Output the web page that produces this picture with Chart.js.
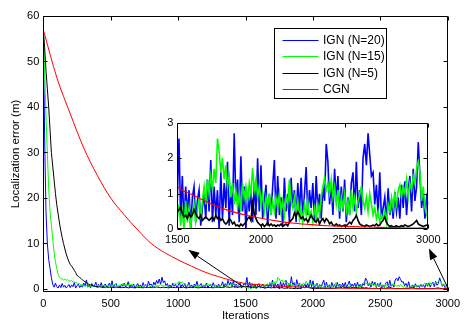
<!DOCTYPE html>
<html>
<head>
<meta charset="utf-8">
<script src="https://cdn.jsdelivr.net/npm/chart.js@4.4.1/dist/chart.umd.min.js"></script>
<style>
  html, body { margin: 0; padding: 0; background: #fff; }
  #wrap { position: relative; width: 465px; height: 323px; }
  #mainChart { position: absolute; left: 0; top: 0; }
  #insetChart { position: absolute; left: 150px; top: 112px; }
</style>
</head>
<body>
<div id="wrap">
  <canvas id="mainChart" width="465" height="323"></canvas>
  <canvas id="insetChart" width="295" height="138"></canvas>
</div>
<script>
// Series info
const seriesNames = ['IGN (N=20)', 'IGN (N=15)', 'IGN (N=5)', 'CGN'];
const seriesColors = ['#0000ff', '#00ff00', '#000000', '#ff0000'];

// IGN curves, one value every 10 iterations (0..3000)
const iterStep = 10;
const ign20 = [
  57, 33, 17, 10, 6.5, 4.5, 2.5, 1.0, 0.4, 1.3,
  0.5, 0.2, 0.9, 0.3, 1.2, 0.4, 0.8, 0.2, 0.6, 1.0,
  0.3, 0.9, 0.5, 1.4, 0.2, 0.7, 1.1, 0.3, 0.8, 0.4,
  1.3, 0.6, 2.0, 0.4, 0.9, 0.2, 1.2, 0.5, 0.8, 1.5,
  0.3, 1.0, 0.6, 1.4, 0.2, 0.8, 1.1, 0.4, 0.7, 1.3,
  0.5, 1.8, 0.3, 0.9, 1.2, 0.4, 0.7, 0.2, 1.0, 0.6,
  1.3, 0.4, 0.8, 1.6, 0.3, 0.9, 0.5, 1.1, 0.2, 0.7,
  1.2, 0.5, 0.9, 0.3, 1.4, 0.6, 1.0, 0.4, 1.7, 0.8,
  1.1, 0.5, 1.5, 0.9, 1.9, 1.2, 2.2, 1.0, 2.6, 1.4,
  1.8, 0.7, 1.2, 0.4, 0.9, 0.3, 1.3, 0.6, 1.0, 0.4,
  0.8, 1.4, 0.3, 1.0, 0.5, 1.2, 0.2, 0.7, 1.5, 0.4,
  0.9, 0.3, 1.1, 0.6, 1.7, 0.4, 0.8, 1.2, 0.3, 0.9,
  0.5, 1.3, 0.2, 0.8, 1.0, 0.4, 1.4, 0.6, 0.9, 0.3,
  1.1, 0.5, 0.8, 1.6, 0.4, 1.2, 0.7, 1.9, 0.9, 1.5,
  0.6, 1.8, 0.4, 1.1, 0.3, 0.9, 1.3, 0.2, 0.7, 1.2,
  0.8, 2.55, 0.3, 1.5, 0.1, 1.2, 0.4, 1.1, 0.0, 0.9,
  1.2, 0.2, 0.8, 1.1, 0.1, 0.6, 1.0, 0.3, 1.4, 0.5,
  1.95, 0.2, 1.2, 0.4, 1.1, 0.0, 1.6, 0.3, 1.3, 0.6,
  1.9, 0.1, 1.2, 0.4, 2.7, 0.8, 1.4, 0.2, 2.05, 0.5,
  1.2, 0.0, 1.0, 0.5, 1.1, 0.2, 1.3, 0.4, 2.0, 0.5,
  1.8, 0.3, 0.8, 1.25, 0.1, 1.0, 0.4, 1.2, 1.95, 0.3,
  1.5, 0.4, 0.9, 0.1, 1.45, 0.5, 1.0, 0.2, 1.45, 0.6,
  1.1, 0.2, 1.3, 0.5, 1.45, 0.3, 1.0, 1.75, 0.4, 1.1,
  0.6, 1.3, 0.2, 1.5, 0.5, 1.0, 0.3, 1.2, 0.8, 2.4,
  1.9, 0.7, 1.3, 0.4, 1.7, 0.8, 1.5, 0.3, 1.2, 0.5,
  1.4, 0.2, 0.9, 0.4, 1.3, 1.6, 0.5, 1.9, 0.6, 1.1,
  0.4, 2.0, 2.4, 1.8, 2.7, 2.1, 1.5, 1.6, 0.7, 1.25,
  0.4, 1.6, 0.3, 0.6, 0.9, 0.2, 1.15, 0.4, 0.8, 0.3,
  1.05, 0.5, 0.9, 0.3, 1.25, 0.6, 1.35, 0.4, 1.1, 1.5,
  0.5, 1.7, 0.8, 1.2, 2.45, 1.5, 0.6, 1.0, 0.3, 0.9,
  0.7
];
const ign15 = [
  57, 48, 38, 30, 22, 17, 14, 11, 8, 6,
  4.5, 3.2, 2.6, 2.3, 2.2, 2.0, 2.2, 1.9, 2.1, 1.8,
  1.7, 1.9, 1.5, 1.6, 1.3, 1.4, 1.1, 1.2, 0.9, 1.0,
  0.8, 0.6, 0.9, 0.5, 0.7, 0.4, 0.8, 0.6, 0.5, 0.7,
  0.9, 0.6, 0.8, 0.5, 1.0, 0.7, 0.6, 0.9, 0.5, 0.8,
  0.6, 0.9, 0.7, 1.1, 0.8, 0.5, 0.7, 1.0, 0.6, 1.2,
  0.9, 1.1, 0.7, 0.9, 1.2, 0.8, 1.0, 0.6, 0.8, 0.5,
  0.7, 0.4, 0.6, 0.8, 0.5, 0.7, 0.9, 0.6, 0.8, 0.5,
  0.6, 0.8, 0.5, 0.7, 0.9, 0.6, 0.8, 1.0, 0.7, 0.9,
  0.6, 0.8, 0.5, 0.7, 0.4, 0.6, 0.8, 1.0, 1.3, 1.1,
  1.5, 1.7, 1.3, 1.6, 1.2, 1.0, 0.8, 0.6, 0.9, 0.7,
  0.5, 0.8, 0.6, 0.4, 0.7, 0.5, 0.8, 0.6, 0.9, 0.7,
  0.8, 1.0, 1.2, 0.9, 1.1, 0.8, 0.6, 0.9, 0.7, 0.5,
  0.7, 0.5, 0.8, 0.6, 0.4, 0.7, 0.9, 0.6, 0.8, 1.0,
  0.8, 1.1, 0.7, 0.9, 0.6, 0.8, 0.5, 0.7, 0.4, 0.6,
  0.3, 0.7, 0.1, 0.5, 0.0, 0.8, 0.2, 0.6, 0.1, 0.4,
  0.7, 0.2, 0.5, 0.9, 0.3, 0.8, 1.2, 0.7, 1.4, 1.0,
  1.5, 1.1, 1.7, 1.3, 2.55, 2.2, 1.6, 2.0, 1.4, 1.8,
  1.2, 1.5, 0.9, 1.3, 0.7, 1.1, 0.6, 1.0, 0.5, 1.3,
  0.9, 1.2, 0.8, 1.3, 1.0, 1.72, 1.1, 1.4, 0.9, 1.2,
  0.7, 1.0, 0.5, 0.9, 0.6, 1.0, 0.4, 0.8, 0.5, 0.9,
  0.6, 1.0, 0.5, 0.8, 0.4, 0.9, 0.7, 1.4, 0.8, 0.6,
  0.9, 0.5, 0.8, 0.3, 0.6, 0.2, 0.7, 0.4, 0.8, 0.3,
  0.5, 0.2, 0.6, 0.3, 0.7, 0.4, 0.9, 1.2, 1.44, 1.1,
  1.3, 1.0, 1.4, 0.9, 1.2, 0.7, 1.1, 0.5, 0.9, 0.6,
  1.0, 0.5, 0.8, 0.4, 1.1, 0.6, 0.9, 0.5, 0.8, 1.0,
  1.2, 0.8, 0.6, 0.9, 0.5, 1.0, 0.7, 0.4, 0.6, 0.3,
  0.5, 0.2, 0.4, 0.3, 0.5, 0.2, 0.7, 0.5, 0.9, 0.6,
  1.0, 0.7, 1.1, 1.25, 0.9, 1.2, 1.0, 1.4, 0.9, 1.3,
  1.1, 1.5, 1.3, 1.7, 1.9, 1.6, 0.8, 1.2, 0.6, 0.4,
  0.3
];
const ign5 = [
  57, 53, 48, 44, 40, 35, 30, 27, 24, 21,
  18.5, 16.5, 14.5, 12.8, 11.3, 10, 8.8, 7.7, 6.8, 6.0,
  5.4, 5.0, 4.6, 4.1, 3.6, 3.0, 2.8, 2.5, 2.3, 2.0,
  1.8, 1.6, 1.4, 1.2, 1.0, 0.9, 0.8, 0.7, 0.6, 0.55,
  0.5, 0.45, 0.5, 0.4, 0.45, 0.35, 0.4, 0.45, 0.35, 0.4,
  0.35, 0.4, 0.3, 0.35, 0.45, 0.3, 0.35, 0.4, 0.3, 0.35,
  0.3, 0.4, 0.35, 0.25, 0.3, 0.4, 0.35, 0.3, 0.25, 0.35,
  0.4, 0.3, 0.35, 0.3, 0.25, 0.35, 0.3, 0.4, 0.35, 0.3,
  0.35, 0.3, 0.4, 0.35, 0.45, 0.4, 0.35, 0.3, 0.35, 0.4,
  0.3, 0.35, 0.3, 0.25, 0.35, 0.4, 0.3, 0.35, 0.3, 0.35,
  0.4, 0.35, 0.3, 0.35, 0.4, 0.3, 0.25, 0.3, 0.35, 0.3,
  0.35, 0.3, 0.4, 0.35, 0.3, 0.25, 0.3, 0.35, 0.4, 0.35,
  0.3, 0.35, 0.4, 0.3, 0.35, 0.3, 0.25, 0.35, 0.4, 0.45,
  0.4, 0.35, 0.3, 0.35, 0.4, 0.5, 0.45, 0.4, 0.35, 0.4,
  0.45, 0.5, 0.4, 0.45, 0.35, 0.4, 0.5, 0.45, 0.55, 0.5,
  0.5, 0.55, 0.62, 0.45, 0.35, 0.4, 0.3, 0.45, 0.35, 0.4,
  0.55, 0.45, 0.35, 0.3, 0.4, 0.25, 0.3, 0.35, 0.3, 0.25,
  0.3, 0.35, 0.25, 0.4, 0.3, 0.35, 0.25, 0.3, 0.2, 0.15,
  0.2, 0.3, 0.25, 0.15, 0.2, 0.1, 0.12, 0.08, 0.15, 0.1,
  0.15, 0.2, 0.3, 0.35, 0.25, 0.74, 0.45, 0.3, 0.2, 0.15,
  0.1, 0.15, 0.08, 0.12, 0.2, 0.1, 0.15, 0.1, 0.12, 0.08,
  0.12, 0.1, 0.15, 0.08, 0.12, 0.15, 0.1, 0.2, 0.25, 0.3,
  0.46, 0.35, 0.5, 0.4, 0.3, 0.35, 0.25, 0.3, 0.2, 0.3,
  0.4, 0.3, 0.25, 0.2, 0.3, 0.15, 0.25, 0.3, 0.2, 0.3,
  0.25, 0.15, 0.2, 0.12, 0.1, 0.15, 0.1, 0.12, 0.08, 0.1,
  0.12, 0.1, 0.15, 0.2, 0.15, 0.25, 0.3, 0.4, 0.25, 0.15,
  0.12, 0.1, 0.08, 0.12, 0.1, 0.08, 0.1, 0.12, 0.1, 0.15,
  0.1, 0.12, 0.2, 0.25, 0.35, 0.2, 0.12, 0.08, 0.1, 0.06,
  0.08, 0.1, 0.06, 0.08, 0.1, 0.08, 0.12, 0.1, 0.08, 0.1,
  0.12, 0.15, 0.2, 0.25, 0.15, 0.12, 0.1, 0.08, 0.1, 0.12,
  0.1
];

// CGN is smooth, read every 100 iterations
const cgnIters = [0, 100, 200, 300, 400, 500, 600, 700, 800, 900, 1000,
  1100, 1200, 1300, 1400, 1500, 1600, 1700, 1800, 1900, 2000,
  2100, 2200, 2300, 2400, 2500, 2600, 2700, 2800, 2900, 3000];
const cgn = [57, 46.5, 38.5, 31, 25, 20, 16.3, 13, 10, 8, 6.4,
  5.0, 3.7, 2.7, 1.85, 1.2, 0.95, 0.72, 0.54, 0.41, 0.31,
  0.23, 0.17, 0.13, 0.1, 0.085, 0.07, 0.055, 0.045, 0.035, 0.03];

// Ticks
const mainXTicks = [0, 500, 1000, 1500, 2000, 2500, 3000];
const mainYTicks = [0, 10, 20, 30, 40, 50, 60];
const insetXTicks = [1500, 2000, 2500, 3000];
const insetYTicks = [0, 1, 2, 3];

// Arrows from the zoomed range to the inset labels (main chart data coords)
const arrowNotes = [
  { from: [1480, 0.5], to: [1075, 8.6] },
  { from: [3000, 0.3], to: [2860, 8.9] }
];

Chart.defaults.font.family = "'Liberation Sans', Arial, sans-serif";
Chart.defaults.font.size = 11;
Chart.defaults.color = '#000';

function toPoints(values) {
  return values.map((v, i) => ({ x: i * iterStep, y: v }));
}

function buildDatasets(noiseWidth, redWidth) {
  const ign = [ign20, ign15, ign5];
  const sets = ign.map((vals, i) => ({
    label: seriesNames[i],
    data: toPoints(vals),
    borderColor: seriesColors[i],
    borderWidth: noiseWidth,
    pointRadius: 0,
    tension: 0,
    order: 4 - i
  }));
  sets.push({
    label: seriesNames[3],
    data: cgnIters.map((x, i) => ({ x: x, y: cgn[i] })),
    borderColor: seriesColors[3],
    borderWidth: redWidth,
    pointRadius: 0,
    cubicInterpolationMode: 'monotone',
    order: 1
  });
  return sets;
}

// Matlab style box with inward ticks
const matlabAxes = {
  id: 'matlabAxes',
  beforeDatasetsDraw(chart) {
    const a = chart.chartArea;
    chart.ctx.save();
    chart.ctx.fillStyle = '#fff';
    chart.ctx.fillRect(a.left, a.top, a.right - a.left, a.bottom - a.top);
    chart.ctx.restore();
  },
  afterDatasetsDraw(chart) {
    const { ctx, chartArea: a, scales: { x, y } } = chart;
    const len = 4;
    const L = Math.round(a.left) + 0.5, R = Math.round(a.right) - 0.5;
    const T = Math.round(a.top) + 0.5, B = Math.round(a.bottom) - 0.5;
    ctx.save();
    ctx.strokeStyle = '#000';
    ctx.lineWidth = 1;
    ctx.beginPath();
    x.ticks.forEach(t => {
      const px = Math.round(x.getPixelForValue(t.value)) + 0.5;
      ctx.moveTo(px, B); ctx.lineTo(px, B - len);
      ctx.moveTo(px, T); ctx.lineTo(px, T + len);
    });
    y.ticks.forEach(t => {
      const py = Math.round(y.getPixelForValue(t.value)) + 0.5;
      ctx.moveTo(L, py); ctx.lineTo(L + len, py);
      ctx.moveTo(R, py); ctx.lineTo(R - len, py);
    });
    ctx.rect(L, T, R - L, B - T);
    ctx.stroke();
    ctx.restore();
  }
};

const boxLegend = {
  id: 'boxLegend',
  afterDraw(chart) {
    const ctx = chart.ctx;
    const left = 274.5, top = 28.5, w = 112, h = 70;
    ctx.save();
    ctx.fillStyle = '#fff';
    ctx.fillRect(left, top, w, h);
    ctx.strokeStyle = '#000';
    ctx.lineWidth = 1;
    ctx.strokeRect(left, top, w, h);
    ctx.font = "12px 'Liberation Sans', Arial, sans-serif";
    ctx.textBaseline = 'middle';
    ctx.fillStyle = '#000';
    seriesNames.forEach((name, i) => {
      const yy = Math.round(top + 11 + i * 16.6) + 0.5;
      ctx.strokeStyle = seriesColors[i];
      ctx.beginPath();
      ctx.moveTo(left + 8, yy);
      ctx.lineTo(left + 44, yy);
      ctx.stroke();
      ctx.fillText(name, left + 48.5, yy + 0.5);
    });
    ctx.restore();
  }
};

const arrows = {
  id: 'arrows',
  afterDraw(chart) {
    const { ctx, scales: { x, y } } = chart;
    ctx.save();
    ctx.strokeStyle = '#000';
    ctx.fillStyle = '#000';
    ctx.lineWidth = 1;
    arrowNotes.forEach(n => {
      const x0 = x.getPixelForValue(n.from[0]), y0 = y.getPixelForValue(n.from[1]);
      const x1 = x.getPixelForValue(n.to[0]), y1 = y.getPixelForValue(n.to[1]);
      const ang = Math.atan2(y1 - y0, x1 - x0);
      const hl = 11, hw = 4;
      const bx = x1 - hl * Math.cos(ang), by = y1 - hl * Math.sin(ang);
      ctx.beginPath();
      ctx.moveTo(x0, y0);
      ctx.lineTo(bx, by);
      ctx.stroke();
      ctx.beginPath();
      ctx.moveTo(x1, y1);
      ctx.lineTo(bx + hw * Math.sin(ang), by - hw * Math.cos(ang));
      ctx.lineTo(bx - hw * Math.sin(ang), by + hw * Math.cos(ang));
      ctx.closePath();
      ctx.fill();
    });
    ctx.restore();
  }
};

function setTicks(list) {
  return scale => { scale.ticks = list.map(v => ({ value: v })); };
}
const plainLabel = v => String(v);

// Main chart
new Chart(document.getElementById('mainChart'), {
  type: 'line',
  data: { datasets: buildDatasets(1, 1) },
  options: {
    responsive: false,
    animation: false,
    layout: { padding: { left: 0, top: 16, right: 11.5, bottom: 0 } },
    plugins: { legend: { display: false }, tooltip: { enabled: false } },
    scales: {
      x: {
        type: 'linear', min: 0, max: 3000,
        afterBuildTicks: setTicks(mainXTicks),
        afterFit: s => { s.height = 31; },
        ticks: { padding: 5, maxRotation: 0, autoSkip: false, callback: plainLabel },
        grid: { display: false, drawTicks: false },
        border: { display: false },
        title: { display: true, text: 'Iterations', font: { size: 11.5 }, padding: { top: 0, bottom: 0 } }
      },
      y: {
        type: 'linear', min: -0.66, max: 60,
        afterBuildTicks: setTicks(mainYTicks),
        afterFit: s => { s.width = 43.3; },
        ticks: { padding: 4, callback: plainLabel },
        grid: { display: false, drawTicks: false },
        border: { display: false },
        title: { display: true, text: 'Localization error (m)', font: { size: 11.5 }, padding: { top: 9, bottom: 0 } }
      }
    }
  },
  plugins: [matlabAxes, arrows, boxLegend]
});

// Inset chart: zoom of iterations 1500-3000
new Chart(document.getElementById('insetChart'), {
  type: 'line',
  data: { datasets: buildDatasets(1.6, 1.2) },
  options: {
    responsive: false,
    animation: false,
    layout: { padding: { left: 0, top: 10.3, right: 16.7, bottom: 0 } },
    plugins: { legend: { display: false }, tooltip: { enabled: false } },
    scales: {
      x: {
        type: 'linear', min: 1500, max: 3000,
        afterBuildTicks: setTicks(insetXTicks),
        afterFit: s => { s.height = 20.7; },
        ticks: { padding: 4, maxRotation: 0, autoSkip: false, callback: plainLabel },
        grid: { display: false, drawTicks: false },
        border: { display: false }
      },
      y: {
        type: 'linear', min: 0, max: 3,
        afterBuildTicks: setTicks(insetYTicks),
        afterFit: s => { s.width = 27.3; },
        ticks: { padding: 4, callback: plainLabel },
        grid: { display: false, drawTicks: false },
        border: { display: false }
      }
    }
  },
  plugins: [matlabAxes]
});
</script>
</body>
</html>
